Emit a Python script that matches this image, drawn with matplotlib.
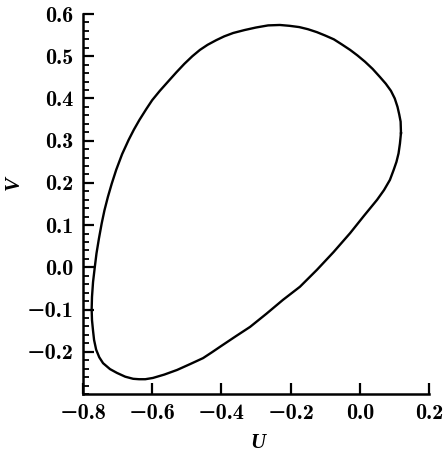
import matplotlib
matplotlib.use("Agg")
import matplotlib.pyplot as plt
from matplotlib.ticker import MultipleLocator

# Limit cycle points (U, V)
U = [0.119, 0.118, 0.114, 0.109, 0.101, 0.090, 0.075, 0.058, 0.037, 0.015, -0.007,
     -0.028, -0.052, -0.075, -0.100, -0.124, -0.150, -0.175, -0.203, -0.231, -0.265,
     -0.300, -0.333, -0.366, -0.392, -0.415, -0.440, -0.462, -0.484, -0.507, -0.530,
     -0.553, -0.578, -0.600, -0.617, -0.637, -0.653, -0.668, -0.687, -0.704, -0.717,
     -0.728, -0.738, -0.746, -0.754, -0.761, -0.766, -0.771, -0.774, -0.775, -0.774,
     -0.771, -0.768, -0.762, -0.753, -0.742, -0.722, -0.702, -0.678,
     -0.655, -0.638, -0.620, -0.598, -0.565, -0.528, -0.490, -0.453, -0.427, -0.400,
     -0.358, -0.317, -0.270, -0.222, -0.173, -0.124, -0.076, -0.028, 0.012, 0.050,
     0.070, 0.087, 0.098, 0.106, 0.112, 0.116, 0.119]
V = [0.318, 0.345, 0.362, 0.380, 0.400, 0.418, 0.435, 0.451, 0.470, 0.487, 0.502,
     0.515, 0.528, 0.540, 0.549, 0.557, 0.564, 0.569, 0.572, 0.574, 0.573,
     0.568, 0.562, 0.555, 0.547, 0.538, 0.527, 0.515, 0.500, 0.482, 0.462,
     0.441, 0.418, 0.396, 0.375, 0.349, 0.326, 0.302, 0.268, 0.231, 0.198,
     0.167, 0.135, 0.104, 0.068, 0.033, 0.000, -0.035, -0.070, -0.100, -0.125,
     -0.150, -0.172, -0.195, -0.213, -0.227, -0.241, -0.250, -0.259,
     -0.264, -0.265, -0.265, -0.262, -0.254, -0.243, -0.229, -0.215, -0.201, -0.186,
     -0.163, -0.141, -0.110, -0.077, -0.046, -0.006, 0.036, 0.081, 0.122, 0.160,
     0.183, 0.207, 0.231, 0.250, 0.270, 0.293, 0.318]

x_ticks = [-0.8, -0.6, -0.4, -0.2, 0.0, 0.2]
y_ticks = [-0.2, -0.1, 0.0, 0.1, 0.2, 0.3, 0.4, 0.5, 0.6]

plt.rcParams['font.family'] = ['cmb10', 'DejaVu Serif']
plt.rcParams['axes.unicode_minus'] = True

fig = plt.figure(figsize=(4.44, 4.58), dpi=100)
ax = fig.add_axes([83/444, 1 - 394/458, (429 - 83)/444, (394 - 14)/458])
ax.plot(U, V, color='black', lw=1.7, solid_joinstyle='round')

ax.set_xlim(-0.8, 0.2)
ax.set_ylim(-0.3, 0.6)
ax.set_xticks(x_ticks)
ax.set_yticks(y_ticks)
ax.yaxis.set_minor_locator(MultipleLocator(0.02))
ax.set_xticklabels([f"{t:.1f}".replace('-', '\u2212') for t in x_ticks])
ax.set_yticklabels([f"{t:.1f}".replace('-', '\u2212') for t in y_ticks])

for s in ['top', 'right']:
    ax.spines[s].set_visible(False)
for s in ['left', 'bottom']:
    ax.spines[s].set_linewidth(1.8)

ax.tick_params(axis='both', which='major', direction='in', length=8, width=1.6,
               labelsize=16, pad=7)
ax.tick_params(axis='y', which='minor', direction='in', length=4.5, width=1.3)

ax.set_xlabel('U', family='Liberation Serif', fontweight='bold', style='italic',
              fontsize=15)
ax.set_ylabel('V', family='Liberation Serif', fontweight='bold', style='italic',
              fontsize=15)
ax.xaxis.set_label_coords(0.506, -0.103)
ax.yaxis.set_label_coords(-0.172, 0.555)

fig.savefig('out.png', dpi=100)
